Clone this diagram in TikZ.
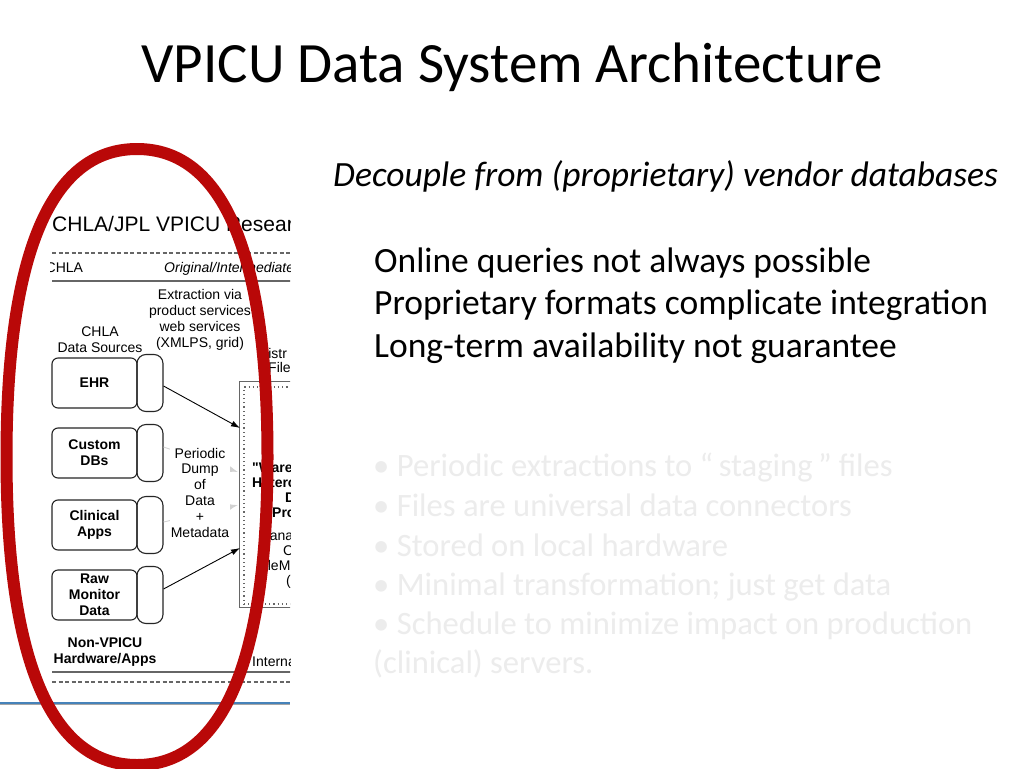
\documentclass[tikz,border=0pt]{standalone}
\usepackage{fontspec}
\setmainfont{Carlito}
\newfontfamily\arialf{Liberation Sans}
\usetikzlibrary{arrows.meta,calc}
\definecolor{ellred}{RGB}{185,8,8}
\definecolor{faint}{RGB}{236,236,236}
\definecolor{ruleblue}{RGB}{70,130,185}
\definecolor{lgray}{RGB}{210,210,210}
\begin{document}
\begin{tikzpicture}[x=1pt,y=-1pt,
  slidetxt/.style={anchor=base west, inner sep=0pt, font=\fontsize{35.5}{35.5}\selectfont},
  faintline/.style={anchor=base west, inner sep=0pt, text=faint, font=\fontsize{32.6}{32.6}\selectfont},
  dlabel/.style={inner sep=0pt, font=\arialf\fontsize{14}{15.8}\selectfont, align=center},
  dtxt/.style={anchor=base west, inner sep=0pt, font=\arialf\fontsize{14}{15.8}\selectfont},
  btxt/.style={anchor=base west, inner sep=0pt, font=\arialf\bfseries\fontsize{14}{15.8}\selectfont},
  src/.style={draw=black!85, line width=1.1pt, rounded corners=6pt, minimum width=85pt, minimum height=50pt,
    inner sep=0pt, font=\arialf\bfseries\fontsize{14}{16}\selectfont, align=center},
  conn/.style={draw=black!85, line width=1.1pt, rounded corners=9pt, minimum width=26pt, minimum height=57pt, inner sep=0pt},
  arr/.style={line width=0.9pt, -{Latex[length=9pt,width=6pt]}},
  garr/.style={line width=0.9pt, lgray, -{Latex[length=9pt,width=6pt]}},
  rulesolid/.style={line width=1.3pt, black!60},
  ruledash/.style={line width=1.3pt, black!60, dash pattern=on 4pt off 2.5pt}
]
\useasboundingbox[fill=white] (0,0) rectangle (1024,768);

% ---- slide text ----
\node[anchor=base, inner sep=0pt, font=\fontsize{57}{57}\selectfont] (title) at (512,82) {VPICU Data System Architecture};
\node[slidetxt, font=\itshape\fontsize{35.5}{35.5}\selectfont] (sub) at (333,186) {Decouple from (proprietary) vendor databases};
\node[slidetxt] (q1) at (374,272) {Online queries not always possible};
\node[slidetxt] (q2) at (374,314) {Proprietary formats complicate integration};
\node[slidetxt] (q3) at (374,357) {Long-term availability not guarantee};

\node[faintline] (f1) at (373,476) {• Periodic extractions to “\,staging\,” files};
\node[faintline] (f2) at (373,516) {• Files are universal data connectors};
\node[faintline] (f3) at (373,556) {• Stored on local hardware};
\node[faintline] (f4) at (373,595) {• Minimal transformation; just get data};
\node[faintline] (f5) at (373,634) {• Schedule to minimize impact on production};
\node[faintline] (f6) at (373,673) {(clinical) servers.};

% ---- embedded architecture diagram (cropped) ----
\begin{scope}
\clip (50,200) rectangle (290,712);
\node[anchor=base west, inner sep=0pt, font=\arialf\fontsize{21}{21}\selectfont] (dtitle) at (52,231) {CHLA/JPL VPICU Research};
\coordinate (dl1a) at (52,253); \coordinate (dl1b) at (292,253);
\draw[ruledash] (dl1a) -- (dl1b);
\node[dtxt] (chla0) at (45.5,272) {CHLA};
\node[dtxt, font=\arialf\itshape\fontsize{14}{15.8}\selectfont] (orig) at (164,272) {Original/Intermediate};
\coordinate (sl1a) at (52,281); \coordinate (sl1b) at (292,281);
\draw[rulesolid] (sl1a) -- (sl1b);

\node[dlabel, anchor=base] (extr) at (200,347) {Extraction via\\product services\\web services\\(XMLPS, grid)};
\node[dlabel, anchor=base] (srcs) at (100,352) {CHLA\\Data Sources};
\node[dtxt] (distr) at (258,358) {Distr};
\node[dtxt] (file) at (268,372) {File};

% warehouse box
\node[draw=black!60, line width=1.1pt, minimum width=200pt, minimum height=226pt, anchor=north west, inner sep=0pt] (wh) at (239,381) {};
\draw[black!60, line width=1.2pt, dash pattern=on 1.2pt off 3pt] (244,605) -- (244,387) -- (300,387);
\draw[black!60, line width=1.2pt, dash pattern=on 1.2pt off 3pt] (244,604) -- (300,604);

\node[btxt] (w1) at (252,472) {"Ware};
\node[btxt] (w2) at (252,487) {Hetero};
\node[btxt] (w3) at (285,502) {D};
\node[btxt] (w4) at (272,517) {Pro};
\node[dtxt] (w5) at (258,540) {Mana};
\node[dtxt] (w6) at (283,555) {C};
\node[dtxt] (w7) at (256,570) {FileM};
\node[dtxt] (w8) at (286,585) {(};

% sources
\node[src] (ehr) at (94.5,383) {EHR};
\node[conn] (c1) at (150,383) {};
\node[src] (cdb) at (94.5,453) {Custom\\DBs};
\node[conn] (c2) at (150,453) {};
\node[src] (capp) at (94.5,525) {Clinical\\Apps};
\node[conn] (c3) at (150,525) {};
\node[src] (raw) at (94.5,595) {Raw\\Monitor\\Data};
\node[conn] (c4) at (150,595) {};

\coordinate (a1) at (240,428);
\coordinate (a2) at (238,472);
\coordinate (a3) at (238,505);
\coordinate (a4) at (240,548);
\draw[garr] ([yshift=6pt]c2.east) -- (a2);
\draw[garr] ([yshift=3pt]c3.east) -- (a3);
\draw[arr] ([yshift=-3pt]c1.east) -- (a1);
\draw[arr] ([yshift=6pt]c4.east) -- (a4);

\node[dlabel, anchor=base, fill=white, inner sep=1pt] (dump) at (200,537) {Periodic\\Dump\\of\\Data\\+\\Metadata};

\node[dlabel, anchor=base, font=\arialf\bfseries\fontsize{14}{15.8}\selectfont] (nonv) at (105,663) {Non-VPICU\\Hardware/Apps};
\node[dtxt] (intl) at (252,666) {Internal};
\coordinate (sl2a) at (52,672); \coordinate (sl2b) at (292,672);
\draw[rulesolid] (sl2a) -- (sl2b);
\coordinate (dl2a) at (52,682); \coordinate (dl2b) at (292,682);
\draw[ruledash] (dl2a) -- (dl2b);
\end{scope}

\coordinate (bl1) at (0,703); \coordinate (bl2) at (290,703);
\draw[black!35, line width=1pt] ([yshift=-1.5pt]bl1) -- ([yshift=-1.5pt]bl2);
\draw[ruleblue, line width=2pt] (bl1) -- (bl2);

% ---- red ellipse ----
\draw[ellred, line width=12pt]
  (6.5,457) .. controls (6.5,253.7) and (50.9,149) .. (137,149)
  .. controls (223.1,149) and (267.5,253.7) .. (267.5,457)
  .. controls (267.5,660.3) and (223.1,765) .. (137,765)
  .. controls (50.9,765) and (6.5,660.3) .. (6.5,457) -- cycle;
\end{tikzpicture}
\end{document}
